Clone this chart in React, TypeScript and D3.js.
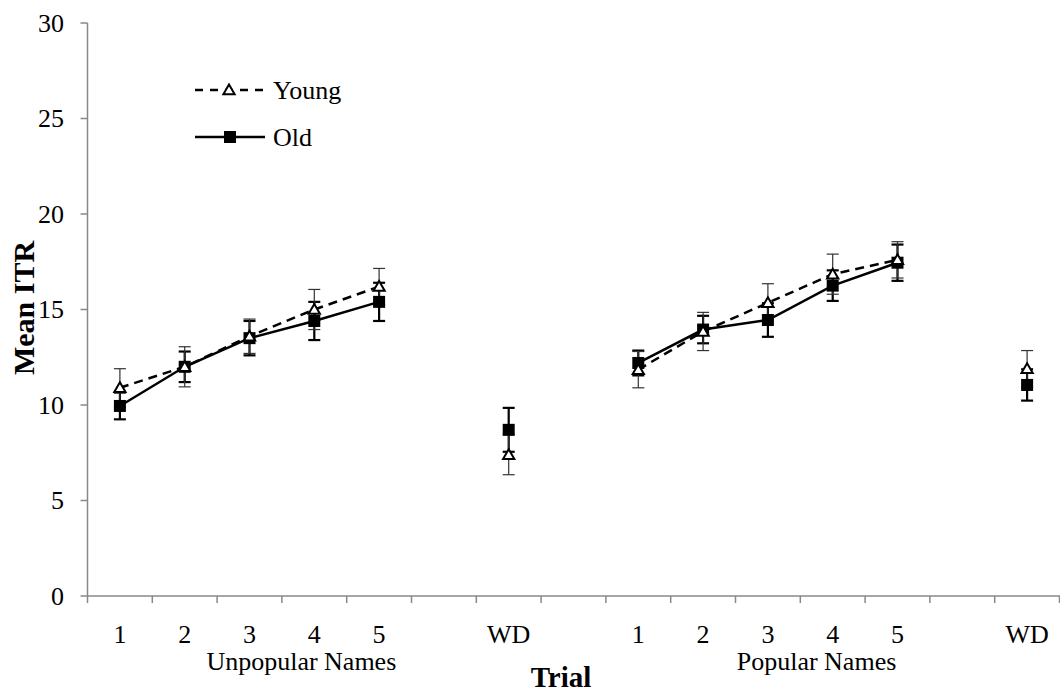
import React from "react";
import * as d3 from "d3";

// x-axis categories (blank slots separate the blocks)
const categories = ["1", "2", "3", "4", "5", "", "WD", "", "1", "2", "3", "4", "5", "", "WD"];
// category index of each data point
const pointSlots = [0, 1, 2, 3, 4, 6, 8, 9, 10, 11, 12, 14];
// points joined by lines (learning trials of each block)
const lineRuns = [[0, 1, 2, 3, 4], [6, 7, 8, 9, 10]];

const youngMean = [10.9, 12.0, 13.6, 15.0, 16.2, 7.4, 11.85, 13.85, 15.35, 16.85, 17.6, 11.9];
const youngErr = [1.0, 1.05, 0.9, 1.05, 0.95, 1.05, 0.95, 1.0, 1.0, 1.05, 0.95, 0.95];
const oldMean = [9.95, 12.0, 13.5, 14.4, 15.4, 8.7, 12.2, 13.95, 14.45, 16.25, 17.45, 11.05];
const oldErr = [0.7, 0.8, 0.9, 1.0, 1.0, 1.15, 0.65, 0.72, 0.88, 0.8, 0.95, 0.82];

const yTicks = [0, 5, 10, 15, 20, 25, 30];
// block captions, centred at a position measured in category steps
const groupLabels = [
  { text: "Unpopular Names", at: 3.3 },
  { text: "Popular Names", at: 11.25 },
];

const W = 1060;
const H = 694;
const FONT = "'Liberation Serif', 'Times New Roman', serif";

export default function App() {
  const x = d3
    .scaleBand<number>()
    .domain(categories.map((_, i) => i))
    .range([87.5, 1059.5]);
  const y = d3.scaleLinear().domain([0, 30]).range([596, 23]);
  const cx = (i: number) => (x(pointSlots[i]) as number) + x.bandwidth() / 2;

  const pathFor = (means: number[], run: number[]) =>
    d3
      .line<number>()
      .x((i) => cx(i))
      .y((i) => y(means[i]))(run) as string;

  const errBars = (means: number[], errs: number[], sw: number, color: string, key: string) =>
    means.map((m, i) => {
      const xc = cx(i);
      const top = y(m + errs[i]);
      const bot = y(m - errs[i]);
      return (
        <g key={key + i} stroke={color} strokeWidth={sw}>
          <line x1={xc} x2={xc} y1={top} y2={bot} />
          <line x1={xc - 6} x2={xc + 6} y1={top} y2={top} />
          <line x1={xc - 6} x2={xc + 6} y1={bot} y2={bot} />
        </g>
      );
    });

  const tri = d3.symbol().type(d3.symbolTriangle).size(55)() as string;
  const bandEdges = categories.map((_, i) => x(i) as number).concat([x.range()[1]]);
  const step = x.step();

  return (
    <svg
      width={W}
      height={H}
      style={{ position: "absolute", left: 0, top: 0, background: "#fff" }}
      fontFamily={FONT}
    >
      {/* y axis */}
      <line x1={87.5} x2={87.5} y1={y(30)} y2={y(0)} stroke="#888" strokeWidth={1.5} />
      {yTicks.map((t) => (
        <g key={"yt" + t}>
          <line x1={80.5} x2={87.5} y1={y(t)} y2={y(t)} stroke="#888" strokeWidth={1.5} />
          <text x={64} y={y(t)} dy="0.34em" textAnchor="end" fontSize={26} fill="#000">
            {t}
          </text>
        </g>
      ))}
      {/* x axis */}
      <line x1={87.5} x2={1060} y1={y(0)} y2={y(0)} stroke="#888" strokeWidth={1.5} />
      {bandEdges.map((e, i) => (
        <line key={"xt" + i} x1={e} x2={e} y1={y(0)} y2={y(0) + 7} stroke="#888" strokeWidth={1.5} />
      ))}
      {categories.map((c, i) =>
        c ? (
          <text
            key={"xl" + i}
            x={(x(i) as number) + x.bandwidth() / 2}
            y={643}
            textAnchor="middle"
            fontSize={26}
          >
            {c}
          </text>
        ) : null
      )}
      {groupLabels.map((g) => (
        <text key={g.text} x={x.range()[0] + g.at * step} y={670} textAnchor="middle" fontSize={26}>
          {g.text}
        </text>
      ))}
      <text x={561} y={687} textAnchor="middle" fontSize={29} fontWeight="bold">
        Trial
      </text>
      <text
        transform={`translate(34, 308) rotate(-90)`}
        textAnchor="middle"
        fontSize={30}
        fontWeight="bold"
      >
        Mean ITR
      </text>

      {/* error bars */}
      {errBars(oldMean, oldErr, 2.2, "#000", "oe")}
      {errBars(youngMean, youngErr, 1.2, "#333", "ye")}

      {/* series lines */}
      {lineRuns.map((r, k) => (
        <path key={"ol" + k} d={pathFor(oldMean, r)} fill="none" stroke="#000" strokeWidth={2.5} />
      ))}
      {lineRuns.map((r, k) => (
        <path
          key={"yl" + k}
          d={pathFor(youngMean, r)}
          fill="none"
          stroke="#000"
          strokeWidth={2.5}
          strokeDasharray="9,6"
        />
      ))}

      {/* markers */}
      {oldMean.map((m, i) => (
        <rect key={"om" + i} x={cx(i) - 6} y={y(m) - 6} width={12} height={12} fill="#000" />
      ))}
      {youngMean.map((m, i) => (
        <path
          key={"ym" + i}
          d={tri}
          transform={`translate(${cx(i)}, ${y(m) + 1})`}
          fill="#fff"
          stroke="#000"
          strokeWidth={2}
        />
      ))}

      {/* legend */}
      <g>
        <line x1={195} x2={263} y1={90} y2={90} stroke="#000" strokeWidth={2.5} strokeDasharray="8,7" />
        <path d={tri} transform="translate(229, 91)" fill="#fff" stroke="#000" strokeWidth={2} />
        <text x={273} y={90} dy="0.34em" fontSize={26}>
          Young
        </text>
        <line x1={195} x2={265} y1={137} y2={137} stroke="#000" strokeWidth={2.5} />
        <rect x={224} y={131} width={12} height={12} fill="#000" />
        <text x={273} y={137} dy="0.34em" fontSize={26}>
          Old
        </text>
      </g>
    </svg>
  );
}
